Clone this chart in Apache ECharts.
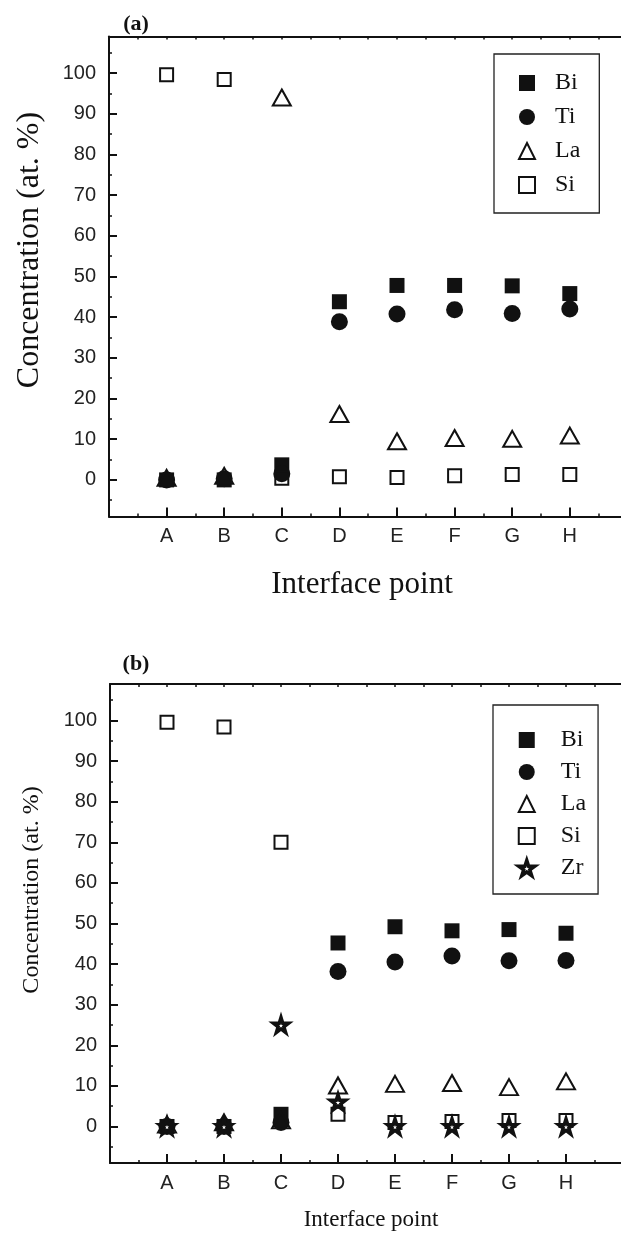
<!DOCTYPE html>
<html>
<head>
<meta charset="utf-8">
<script src="https://cdn.jsdelivr.net/npm/echarts@6/dist/echarts.min.js"></script>
<style>html,body{margin:0;padding:0;background:#fff;}#c{width:621px;height:1234px;}</style>
</head>
<body>
<div id="c"></div>
<script>
// ---- data ----
const categories = ['A', 'B', 'C', 'D', 'E', 'F', 'G', 'H'];
const yTicks = [0, 10, 20, 30, 40, 50, 60, 70, 80, 90, 100];
const yMinorTicks = [-5, 5, 15, 25, 35, 45, 55, 65, 75, 85, 95, 105];

// panel (a)
const aBi = [0, 0, 3.7, 43.8, 47.8, 47.8, 47.7, 45.8];
const aTi = [0, 0.3, 1.5, 38.9, 40.8, 41.8, 40.9, 42.0];
const aLa = [0.5, 1, 94, 16.2, 9.5, 10.3, 10.1, 10.9];
const aSi = [99.6, 98.4, 0.4, 0.8, 0.6, 1.0, 1.3, 1.3];

// panel (b)
const bBi = [0, 0, 3, 45.2, 49.2, 48.2, 48.5, 47.6];
const bTi = [0, 0, 1, 38.2, 40.5, 42.0, 40.8, 40.9];
const bLa = [0.5, 1, 1.5, 10.1, 10.5, 10.7, 9.7, 11.1];
const bSi = [99.6, 98.4, 70, 3, 1, 1.2, 1.5, 1.5];
const bZr = [0, 0, 25, 6, 0, 0, 0, 0];

// ---- chart ----
const toPts = arr => arr.map((v, i) => [i + 1, v]);
const INK = '#111';
const starPath = 'path://M50,0 L61.2,34.5 L97.6,34.5 L68.2,55.9 L79.4,90.5 L50,69.1 L20.6,90.5 L31.8,55.9 L2.4,34.5 L38.8,34.5 Z';

const styles = {
  Bi: { symbol: 'rect', symbolSize: 15, itemStyle: { color: INK, opacity: 1 } },
  Ti: { symbol: 'circle', symbolSize: 17, itemStyle: { color: INK, opacity: 1 } },
  La: { symbol: 'triangle', symbolSize: [18, 16], itemStyle: { color: 'rgba(0,0,0,0)', borderColor: INK, borderWidth: 2, opacity: 1 } },
  Si: { symbol: 'rect', symbolSize: 13, itemStyle: { color: 'rgba(0,0,0,0)', borderColor: INK, borderWidth: 2, opacity: 1 } },
  Zr: { symbol: starPath, symbolSize: 15, itemStyle: { color: '#fff', borderColor: INK, borderWidth: 3.5, opacity: 1 } }
};

function mk(name, arr, gi) {
  return Object.assign({
    name: name, type: 'scatter', xAxisIndex: gi * 2, yAxisIndex: gi * 2,
    data: toPts(arr), z: 3, animation: false
  }, JSON.parse(JSON.stringify({ symbolSize: styles[name].symbolSize, itemStyle: styles[name].itemStyle })), { symbol: styles[name].symbol });
}

const lineStyle = { color: INK, width: 2 };
const xLabelFmt = v => (Number.isInteger(v) && v >= 1 && v <= categories.length) ? categories[v - 1] : '';

function xAxes(gi) {
  return [
    {
      gridIndex: gi, type: 'value', position: 'bottom', min: 0, max: 10, interval: 1,
      axisLine: { show: true, onZero: false, lineStyle: lineStyle },
      axisTick: { show: true, inside: true, length: 9, lineStyle: lineStyle },
      minorTick: { show: true, splitNumber: 2, length: 3, lineStyle: { color: INK, width: 1.5 } },
      axisLabel: { show: true, formatter: xLabelFmt, margin: 10, fontSize: 20, fontFamily: 'Liberation Sans', color: '#222' },
      splitLine: { show: false }, minorSplitLine: { show: false }
    },
    {
      gridIndex: gi, type: 'value', position: 'top', min: 0, max: 10, interval: 0.5,
      axisLine: { show: true, onZero: false, lineStyle: lineStyle },
      axisTick: { show: true, inside: true, length: 3, lineStyle: { color: INK, width: 1.5 } },
      axisLabel: { show: false }, splitLine: { show: false }
    }
  ];
}
function yAxes(gi) {
  return [
    {
      gridIndex: gi, type: 'value', position: 'left', min: -9, max: 109,
      axisLine: { show: true, onZero: false, lineStyle: lineStyle },
      axisTick: { show: true, inside: true, length: 8, customValues: yTicks, lineStyle: lineStyle },
      axisLabel: { show: true, customValues: yTicks, margin: 13, fontSize: 20, fontFamily: 'Liberation Sans', color: '#222' },
      splitLine: { show: false }
    },
    {
      gridIndex: gi, type: 'value', position: 'left', min: -9, max: 109,
      axisLine: { show: false },
      axisTick: { show: true, inside: true, length: 3, customValues: yMinorTicks, lineStyle: { color: INK, width: 1.5 } },
      axisLabel: { show: false }, splitLine: { show: false }
    }
  ];
}

function legendItems(names) {
  return names.map(n => n === 'Zr'
    ? { name: n, itemStyle: { color: '#fff', borderColor: INK, borderWidth: 3.5 } }
    : { name: n });
}

function legend(left, top, padding, gap, names, textPad) {
  return {
    orient: 'vertical', left: left, top: top, padding: padding, itemGap: gap,
    itemWidth: 16, itemHeight: 16, selectedMode: false,
    data: legendItems(names),
    borderColor: '#222', borderWidth: 1.3, backgroundColor: '#fff',
    textStyle: { fontFamily: 'Liberation Serif', fontSize: 24, lineHeight: 24, color: INK, padding: [0, 0, 0, textPad] }
  };
}

const serif = 'Liberation Serif';
function txt(x, y, text, font, rot) {
  return {
    type: 'text', x: x, y: y, rotation: rot || 0, silent: true,
    style: { text: text, font: font, fill: INK, textAlign: 'center', textVerticalAlign: 'middle' }
  };
}

const option = {
  backgroundColor: '#fff',
  animation: false,
  grid: [
    { left: 109, top: 36.5, width: 576, height: 480, outerBoundsMode: 'none', containLabel: false },
    { left: 110, top: 684, width: 570, height: 479, outerBoundsMode: 'none', containLabel: false }
  ],
  xAxis: xAxes(0).concat(xAxes(1)),
  yAxis: yAxes(0).concat(yAxes(1)),
  legend: [
    legend(494, 54, [17, 19, 16, 24], 10, ['Bi', 'Ti', 'La', 'Si'], 15),
    legend(493, 705, [23, 12, 14, 24], 8, ['Bi', 'Ti', 'La', 'Si', 'Zr'], 21)
  ],
  series: [
    mk('Bi', aBi, 0), mk('Ti', aTi, 0), mk('La', aLa, 0), mk('Si', aSi, 0),
    mk('Bi', bBi, 1), mk('Ti', bTi, 1), mk('La', bLa, 1), mk('Si', bSi, 1), mk('Zr', bZr, 1)
  ],
  graphic: [
    txt(136, 24, '(a)', 'bold 22px ' + serif),
    txt(136, 664, '(b)', 'bold 22px ' + serif),
    txt(30, 250, 'Concentration (at. %)', '32px ' + serif, Math.PI / 2),
    txt(362, 585, 'Interface point', '31px ' + serif),
    txt(32, 890, 'Concentration (at. %)', '24px ' + serif, Math.PI / 2),
    txt(371, 1220, 'Interface point', '23px ' + serif)
  ]
};

const chart = echarts.init(document.getElementById('c'), null, { renderer: 'canvas' });
chart.setOption(option);
</script>
</body>
</html>
